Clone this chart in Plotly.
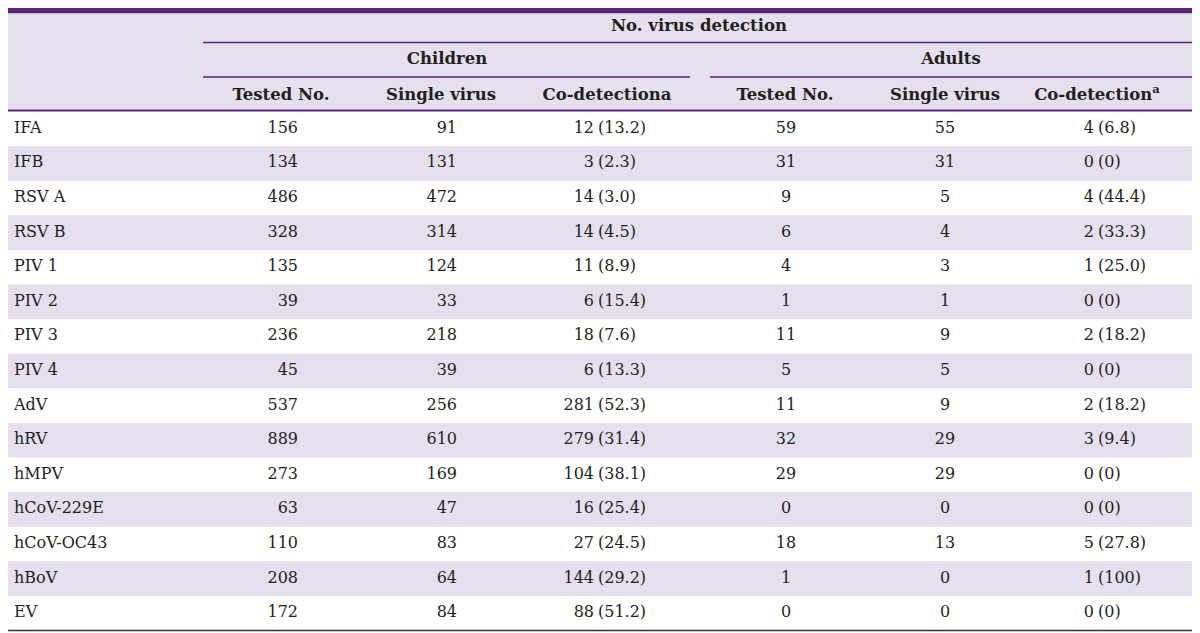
import plotly.graph_objects as go

viruses = ["IFA", "IFB", "RSV A", "RSV B", "PIV 1", "PIV 2", "PIV 3", "PIV 4", "AdV",
           "hRV", "hMPV", "hCoV-229E", "hCoV-OC43", "hBoV", "EV"]
child_tested = [156, 134, 486, 328, 135, 39, 236, 45, 537, 889, 273, 63, 110, 208, 172]
child_single = [91, 131, 472, 314, 124, 33, 218, 39, 256, 610, 169, 47, 83, 64, 84]
child_co = [12, 3, 14, 14, 11, 6, 18, 6, 281, 279, 104, 16, 27, 144, 88]
child_co_pct = ["13.2", "2.3", "3.0", "4.5", "8.9", "15.4", "7.6", "13.3", "52.3", "31.4",
                "38.1", "25.4", "24.5", "29.2", "51.2"]
adult_tested = [59, 31, 9, 6, 4, 1, 11, 5, 11, 32, 29, 0, 18, 1, 0]
adult_single = [55, 31, 5, 4, 3, 1, 9, 5, 9, 29, 29, 0, 13, 0, 0]
adult_co = [4, 0, 4, 2, 1, 0, 2, 0, 2, 3, 0, 0, 5, 1, 0]
adult_co_pct = ["6.8", "0", "44.4", "33.3", "25.0", "0", "18.2", "0", "18.2", "9.4",
                "0", "0", "27.8", "100", "0"]

top_header = "No. virus detection"
group_headers = ["Children", "Adults"]
sub_headers = ["Tested No.", "Single virus", "Co-detectiona",
               "Tested No.", "Single virus", "Co-detection<sup>a</sup>"]

# layout constants (pixels in page coordinates; page body has an 8px margin)
W, H = 1200, 633
PAGE_OFF = 8
LEFT, RIGHT = 7, 1193
ROW_TOP, ROW_H = 111.5, 34.6
PURPLE = "#5B2479"
LAV = "#E5DFEE"
TXT = "#231F20"
FONT = "DejaVu Serif"
FS = 16
FS_HEAD = 16.5

n = len(viruses)
row_y = [ROW_TOP + ROW_H * (i + 0.5) for i in range(n)]

fig = go.Figure()

shapes = []
shapes.append(dict(type="rect", x0=LEFT, x1=RIGHT, y0=2.5, y1=13.5, fillcolor=PURPLE, line_width=0, layer="below"))
shapes.append(dict(type="rect", x0=LEFT, x1=RIGHT, y0=13.5, y1=110.5, fillcolor=LAV, line_width=0, layer="below"))
for i in range(n):
    if i % 2 == 1:
        shapes.append(dict(type="rect", x0=LEFT, x1=RIGHT, y0=ROW_TOP + ROW_H * i,
                           y1=ROW_TOP + ROW_H * (i + 1), fillcolor=LAV, line_width=0, layer="below"))
shapes.append(dict(type="line", x0=203, x1=RIGHT, y0=42.5, y1=42.5, line=dict(color=PURPLE, width=1.5)))
shapes.append(dict(type="line", x0=203, x1=690, y0=77, y1=77, line=dict(color=PURPLE, width=1.5)))
shapes.append(dict(type="line", x0=710, x1=RIGHT, y0=77, y1=77, line=dict(color=PURPLE, width=1.5)))
shapes.append(dict(type="line", x0=LEFT, x1=RIGHT, y0=110.5, y1=110.5, line=dict(color=PURPLE, width=2)))
shapes.append(dict(type="line", x0=LEFT, x1=RIGHT, y0=ROW_TOP + ROW_H * n, y1=ROW_TOP + ROW_H * n,
                   line=dict(color="#333333", width=1.5)))


def add_text(xs, ys, texts, pos, bold=False, size=FS):
    t = [f"<b>{s}</b>" if bold else str(s) for s in texts]
    fig.add_trace(go.Scatter(x=xs, y=ys, text=t, mode="text", textposition=pos,
                             textfont=dict(family=FONT, size=size, color=TXT),
                             hoverinfo="skip", showlegend=False))


# headers
add_text([699], [27], [top_header], "middle center", bold=True, size=FS_HEAD)
add_text([447, 951], [60, 60], group_headers, "middle center", bold=True, size=FS_HEAD)
sub_x = [281, 441, 607, 785, 945, 1097]
add_text(sub_x, [96] * 6, sub_headers, "middle center", bold=True, size=FS_HEAD)

# body
add_text([14] * n, row_y, viruses, "middle right")
add_text([298] * n, row_y, child_tested, "middle left")
add_text([457] * n, row_y, child_single, "middle left")
add_text([594] * n, row_y, child_co, "middle left")
add_text([598] * n, row_y, [f"({p})" for p in child_co_pct], "middle right")
add_text([786] * n, row_y, adult_tested, "middle center")
add_text([945] * n, row_y, adult_single, "middle center")
add_text([1094] * n, row_y, adult_co, "middle left")
add_text([1098] * n, row_y, [f"({p})" for p in adult_co_pct], "middle right")

fig.update_layout(
    width=W - PAGE_OFF, height=H - PAGE_OFF, margin=dict(l=0, r=0, t=0, b=0),
    paper_bgcolor="white", plot_bgcolor="white", shapes=shapes,
    xaxis=dict(range=[PAGE_OFF, W], visible=False, fixedrange=True),
    yaxis=dict(range=[H, PAGE_OFF], visible=False, fixedrange=True),
)
fig.write_html("out.html")
